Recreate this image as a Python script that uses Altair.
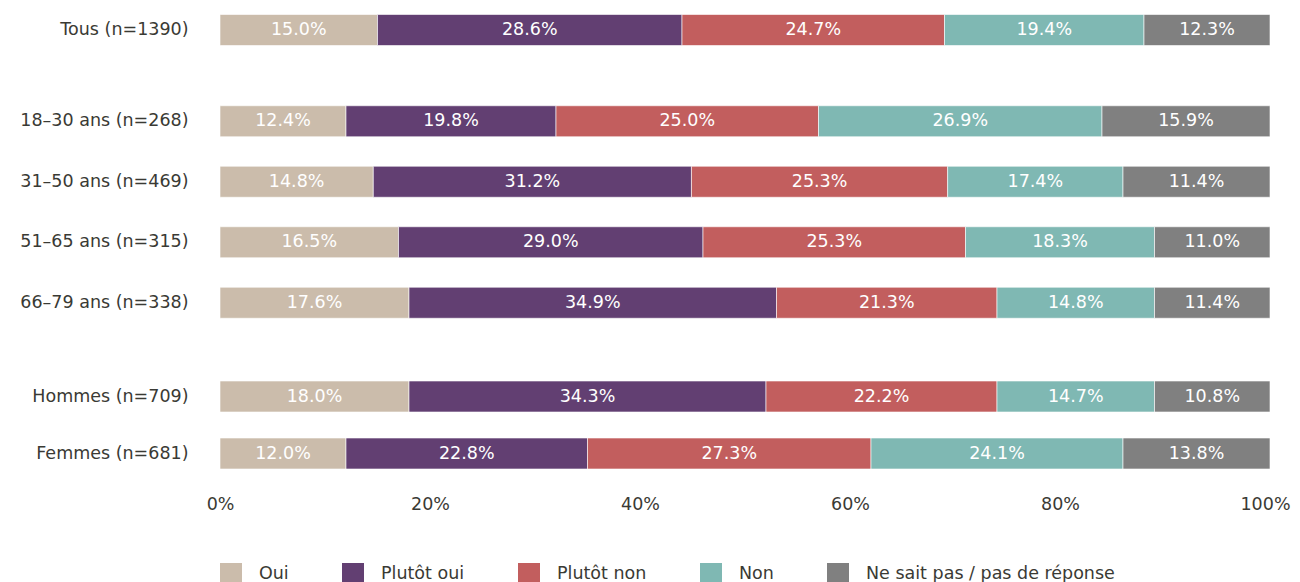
import altair as alt
import pandas as pd

rows_g1 = ["Tous (n=1390)"]
rows_g2 = ["18–30 ans (n=268)", "31–50 ans (n=469)", "51–65 ans (n=315)", "66–79 ans (n=338)"]
rows_g3 = ["Hommes (n=709)", "Femmes (n=681)"]
groups = [rows_g1, rows_g2, rows_g3]

categories = ["Oui", "Plutôt oui", "Plutôt non", "Non", "Ne sait pas / pas de réponse"]
colors = ["#cbbcab", "#623f72", "#c25e5e", "#7fb8b3", "#808080"]

# percentages printed on the bars
oui = [15.0, 12.4, 14.8, 16.5, 17.6, 18.0, 12.0]
plutot_oui = [28.6, 19.8, 31.2, 29.0, 34.9, 34.3, 22.8]
plutot_non = [24.7, 25.0, 25.3, 25.3, 21.3, 22.2, 27.3]
non = [19.4, 26.9, 17.4, 18.3, 14.8, 14.7, 24.1]
nsp = [12.3, 15.9, 11.4, 11.0, 11.4, 10.8, 13.8]
labels = [oui, plutot_oui, plutot_non, non, nsp]

# segment lengths as drawn in the picture (percent of the bar)
oui_len = [15.0, 12.0, 14.6, 17.0, 18.0, 18.0, 12.0]
plutot_oui_len = [29.0, 20.0, 30.3, 29.0, 35.0, 34.0, 23.0]
plutot_non_len = [25.0, 25.0, 24.4, 25.0, 21.0, 22.0, 27.0]
non_len = [19.0, 27.0, 16.7, 18.0, 15.0, 15.0, 24.0]
nsp_len = [12.0, 16.0, 14.0, 11.0, 11.0, 11.0, 14.0]
lengths = [oui_len, plutot_oui_len, plutot_non_len, non_len, nsp_len]

x_ticks = [0, 0.2, 0.4, 0.6, 0.8, 1.0]

FONT = "DejaVu Sans"
FS = 17.5
TEXT_COLOR = "#3a3a34"

all_rows = [r for g in groups for r in g]
recs = []
for gi, g in enumerate(groups):
    for r in g:
        ri = all_rows.index(r)
        for ci, c in enumerate(categories):
            recs.append({
                "grp": gi, "row": r, "cat": c, "order": ci,
                "value": labels[ci][ri], "len": lengths[ci][ri],
            })
df = pd.DataFrame(recs)


def panel(gi, height, show_x):
    rows = groups[gi]
    base = (
        alt.Chart(df)
        .transform_filter(alt.datum.grp == gi)
        .transform_stack(
            stack="len",
            groupby=["row"],
            as_=["x0", "x1"],
            sort=[alt.SortField(field="order", order="ascending")],
            offset="normalize",
        )
        .transform_calculate(
            xm="(datum.x0 + datum.x1) / 2",
            label="format(datum.value, '.1f') + '%'",
        )
    )
    y = alt.Y(
        "row:N",
        sort=rows,
        scale=alt.Scale(paddingInner=0, paddingOuter=0),
        axis=alt.Axis(
            title=None, domain=False, ticks=False, labelPadding=32,
            labelFontSize=FS, labelFont=FONT, labelColor=TEXT_COLOR,
            minExtent=212, maxExtent=212, labelLimit=300,
        ),
    )
    if show_x:
        xaxis = alt.Axis(
            title=None, values=x_ticks, format=".0%", grid=False, domain=False,
            ticks=False, labelPadding=13, labelFontSize=FS, labelFont=FONT,
            labelColor=TEXT_COLOR, labelFlush=False,
            labelOffset={"condition": {"test": "datum.value >= 1", "value": -5}, "value": 0},
        )
    else:
        xaxis = None
    xs = alt.Scale(domain=[0, 1], nice=False, zero=False)
    bars = base.mark_bar(size=31, stroke="white", strokeWidth=0.6).encode(
        x=alt.X("x0:Q", scale=xs, axis=xaxis),
        x2="x1:Q",
        y=y,
        color=alt.Color(
            "cat:N",
            scale=alt.Scale(domain=categories, range=colors),
            legend=alt.Legend(
                title=None, orient="bottom", direction="horizontal",
                symbolType="square", symbolSize=484, symbolStrokeWidth=0,
                labelFontSize=FS, labelFont=FONT, labelColor=TEXT_COLOR,
                labelOffset=17, columnPadding=53, offset=50, labelLimit=400,
            ),
        ),
    )
    text = base.mark_text(color="white", fontSize=FS, font=FONT).encode(
        x=alt.X("xm:Q", scale=xs),
        y=y,
        text="label:N",
    )
    return (bars + text).properties(
        width=1050, height=height,
        view=alt.ViewBackground(stroke="transparent", strokeWidth=0),
    )


p1 = panel(0, 42, False)
p2 = panel(1, 242, False)
p3 = panel(2, 114, True)

chart = (
    alt.vconcat(p1, alt.vconcat(p2, p3, spacing=35), spacing=40)
    .resolve_scale(color="shared")
    .configure_view(stroke="transparent", strokeWidth=0)
    .configure(padding={"left": 0, "top": 1, "right": 0, "bottom": 0})
)

chart.save("out.html", embed_options={"renderer": "svg", "actions": False})
